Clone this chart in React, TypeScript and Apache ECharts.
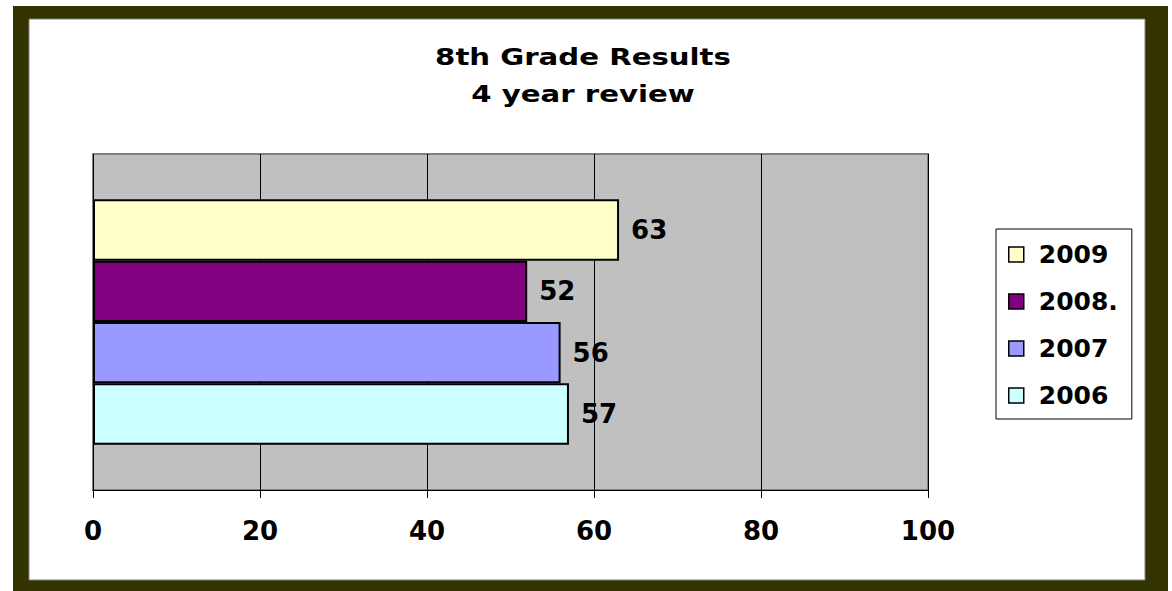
import React, { useEffect, useRef } from "react";
import * as echarts from "echarts";

const categories = ["8th Grade"];
const seriesNames = ["2009", "2008.", "2007", "2006"];
const values2009 = [63];
const values2008 = [52];
const values2007 = [56];
const values2006 = [57];
const seriesColors = ["#FFFFCC", "#800080", "#9999FF", "#CCFFFF"];
const titleLines = ["8th Grade Results", "4 year review"];

export default function App() {
  const ref = useRef<HTMLDivElement>(null);
  useEffect(() => {
    const chart = echarts.init(ref.current!, null, { renderer: "svg" });
    const allValues = [values2009, values2008, values2007, values2006];
    const font = "'DejaVu Sans', Verdana, sans-serif";
    chart.setOption({
      animation: false,
      backgroundColor: "#FFFFFF",
      graphic: [
        { type: "rect", z: -10, shape: { x: 13, y: 6, width: 1155, height: 600 }, style: { fill: "#333300" } },
        { type: "rect", z: -9, shape: { x: 29, y: 19, width: 1116, height: 561 }, style: { fill: "#FFFFFF", stroke: "#808080", lineWidth: 1 } },
        ...titleLines.map((t, i) => ({
          type: "text",
          x: 583,
          y: 57 + i * 37,
          scaleX: 1.27,
          style: {
            text: t,
            fontFamily: font,
            fontWeight: "bold",
            fontSize: 23,
            fill: "#000",
            textAlign: "center",
            textVerticalAlign: "middle",
          },
        })),
      ],
      legend: {
        data: seriesNames,
        orient: "vertical",
        left: 996,
        top: 229,
        padding: [13, 14, 11, 12],
        itemGap: 22,
        itemWidth: 15,
        itemHeight: 15,
        icon: "rect",
        borderColor: "#000",
        borderWidth: 1,
        backgroundColor: "#FFFFFF",
        itemStyle: { borderColor: "#000", borderWidth: 1.5 },
        textStyle: { fontFamily: font, fontWeight: "bold", fontSize: 25, lineHeight: 25, color: "#000", padding: [0, 0, 0, 10] },
      },
      grid: {
        left: 93,
        top: 154,
        width: 835,
        height: 336,
        show: true,
        backgroundColor: "#C0C0C0",
        borderColor: "#808080",
        borderWidth: 2,
      },
      xAxis: {
        type: "value",
        min: 0,
        max: 100,
        interval: 20,
        axisLine: { show: true, lineStyle: { color: "#000", width: 1 } },
        axisTick: { show: true, length: 8, lineStyle: { color: "#000" } },
        splitLine: { show: true, lineStyle: { color: "#000", width: 1 } },
        axisLabel: { fontFamily: font, fontWeight: "bold", fontSize: 26, color: "#000", margin: 28 },
      },
      yAxis: {
        type: "category",
        data: categories,
        axisLine: { show: false },
        axisTick: { show: false },
        axisLabel: { show: false },
      },
      series: seriesNames.map((name, i) => ({
        name,
        type: "bar",
        data: allValues[i],
        barGap: "0%",
        barCategoryGap: "27%",
        itemStyle: { color: seriesColors[i], borderColor: "#000", borderWidth: 2 },
        label: {
          show: true,
          position: "right",
          distance: 12,
          fontFamily: font,
          fontWeight: "bold",
          fontSize: 26,
          color: "#000",
        },
      })),
    });
    return () => chart.dispose();
  }, []);
  return <div ref={ref} style={{ position: "fixed", left: 0, top: 0, width: 1172, height: 591 }} />;
}
